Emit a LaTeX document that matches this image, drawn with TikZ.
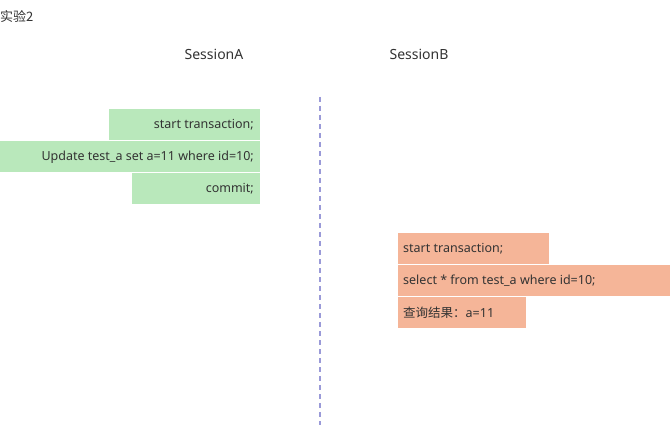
\documentclass[tikz,border=0pt]{standalone}
\usepackage{fontspec}
\setmainfont{Noto Sans}
\newfontfamily\cjk{Noto Sans CJK SC}
\definecolor{gbox}{HTML}{B9E8BB}
\definecolor{obox}{HTML}{F5B598}
\definecolor{txt}{HTML}{333333}
\definecolor{dashcol}{HTML}{9A9AD8}
\begin{document}
\begin{tikzpicture}[x=1pt,y=-1pt,
  lbl/.style={font=\fontsize{12.5}{14}\selectfont,text=txt,inner sep=0pt},
  gr/.style={fill=gbox,draw=none},
  orr/.style={fill=obox,draw=none}]
\useasboundingbox[fill=white] (0,0) rectangle (671,425);
\node[lbl,anchor=west,font=\cjk\fontsize{13}{15}\selectfont] (title) at (0,16) {实验2};
\node[lbl,font=\fontsize{14}{16}\selectfont] (sa) at (214,54) {SessionA};
\node[lbl,font=\fontsize{14}{16}\selectfont] (sb) at (419,54) {SessionB};
\coordinate (d1) at (320,97); \coordinate (d2) at (320,425);
\draw[dashcol,line width=1.5pt,dash pattern=on 5pt off 4pt] (d1) -- (d2);
\fill[gr] (109,109) rectangle (260,140);
\fill[gr] (0,141) rectangle (260,172);
\fill[gr] (132,173) rectangle (260,204);
\node[lbl,anchor=east] (a1) at (254,125) {start transaction;};
\node[lbl,anchor=east] (a2) at (254,157) {Update test\_a set a=11 where id=10;};
\node[lbl,anchor=east] (a3) at (254,189) {commit;};
\fill[orr] (398,233) rectangle (549,264);
\fill[orr] (398,265) rectangle (670,296);
\fill[orr] (398,297) rectangle (526,328);
\node[lbl,anchor=west] (b1) at (403,249) {start transaction;};
\node[lbl,anchor=west] (b2) at (403,281) {select * from test\_a where id=10;};
\node[lbl,anchor=west] (b3) at (403,313) {{\cjk 查询结果：}a=11};
\end{tikzpicture}
\end{document}
